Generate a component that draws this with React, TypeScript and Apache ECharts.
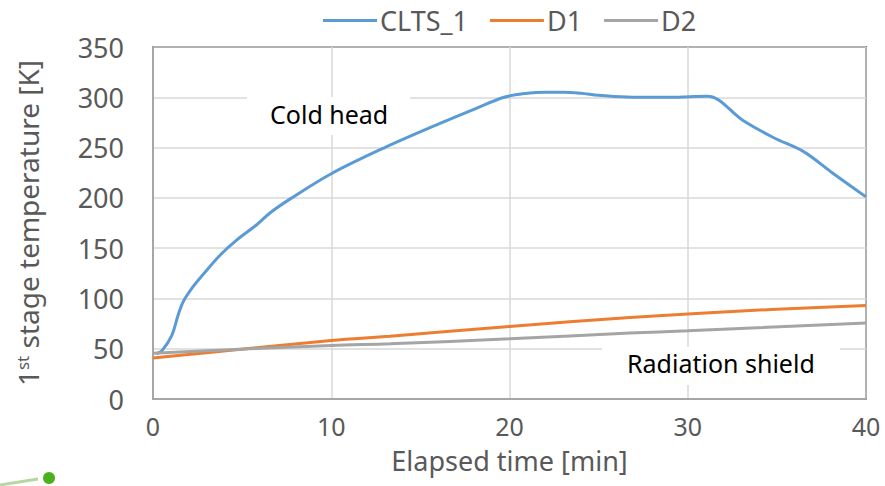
import React, { useEffect, useRef } from "react";
import * as echarts from "echarts";

const seriesNames = ["CLTS_1", "D1", "D2"];
const colors = ["#5b9bd5", "#ed7d31", "#a5a5a5"];

const clts1Time = [0.2, 0.5, 1.05, 1.42, 1.7, 2.26, 2.82, 3.76, 4.69, 5.8, 6.56, 7.7, 10, 13, 16.1, 18, 19.7, 21, 22, 23, 24, 25, 26.9, 29, 31.1, 33.1, 34.8, 36.5, 38.1, 40];
const clts1Temp = [45, 48, 63, 84, 97, 112, 124, 143, 158, 173, 185, 199, 224, 250, 274, 288, 300, 304, 305, 305, 304, 302, 300, 300, 301, 277, 260, 246, 225, 201];

const d1Time = [0, 3, 10, 13.3, 20, 26.75, 30, 35, 40];
const d1Temp = [40.8, 46, 58.1, 62.4, 72.2, 81, 84.5, 89.3, 93];

const d2Time = [0, 10, 13.3, 20, 26.75, 30, 40];
const d2Temp = [45.6, 53.3, 55, 59.8, 65.6, 67.8, 75.5];

const xTicks = [0, 10, 20, 30, 40];
const yTicks = [0, 50, 100, 150, 200, 250, 300, 350];

const FONT = "Noto Sans";

function pairs(t: number[], v: number[]) {
  return t.map((x, i) => [x, v[i]]);
}

export default function App() {
  const ref = useRef<HTMLDivElement>(null);
  useEffect(() => {
    if (!ref.current) return;
    const chart = echarts.init(ref.current, undefined, { renderer: "svg" });
    const datasets = [pairs(clts1Time, clts1Temp), pairs(d1Time, d1Temp), pairs(d2Time, d2Temp)];
    chart.setOption({
      animation: false,
      backgroundColor: "#ffffff",
      textStyle: { fontFamily: FONT },
      legend: {
        top: 2,
        left: 318,
        itemWidth: 54,
        itemHeight: 3,
        itemGap: 22,
        icon: "rect",
        textStyle: { fontSize: 27, color: "#595959", fontFamily: FONT, padding: [0, 0, 0, -2] },
        data: seriesNames,
      },
      grid: {
        left: 153,
        right: 19,
        top: 47,
        bottom: 87,
        show: true,
        borderColor: "#000000",
        borderWidth: 1.5,
        containLabel: false,
        outerBoundsMode: "none",
      },
      xAxis: {
        type: "value",
        min: xTicks[0],
        max: xTicks[xTicks.length - 1],
        interval: 10,
        name: "Elapsed time [min]",
        nameLocation: "middle",
        nameGap: 48,
        nameTextStyle: { fontSize: 27, color: "#595959", fontFamily: FONT },
        axisLine: { show: true, lineStyle: { color: "#a6a6a6", width: 2 } },
        axisTick: { show: false },
        axisLabel: { fontSize: 25, color: "#595959", margin: 14, fontFamily: FONT },
        splitLine: { show: true, lineStyle: { color: "#d9d9d9", width: 1.5 } },
      },
      yAxis: {
        type: "value",
        min: yTicks[0],
        max: yTicks[yTicks.length - 1],
        interval: 50,
        name: "1{sup|st} stage temperature [K]",
        nameLocation: "middle",
        nameGap: 111,
        nameTextStyle: {
          fontSize: 28,
          color: "#595959",
          fontFamily: FONT,
          rich: {
            sup: { fontSize: 17, color: "#595959", fontFamily: FONT, verticalAlign: "top", padding: [0, 0, 10, 0] },
          },
        },
        axisLine: { show: true, lineStyle: { color: "#a6a6a6", width: 2 } },
        axisTick: { show: false },
        axisLabel: { fontSize: 27, color: "#595959", margin: 29, fontFamily: FONT },
        splitLine: { show: true, lineStyle: { color: "#d9d9d9", width: 1.5 } },
      },
      series: seriesNames.map((name, i) => ({
        name,
        type: "line",
        data: datasets[i],
        smooth: 0.35,
        symbol: "none",
        lineStyle: { color: colors[i], width: 3 },
        itemStyle: { color: colors[i] },
        z: 2 + i,
      })),
      graphic: [
        { type: "rect", left: 247, top: 97, shape: { width: 163, height: 38 }, style: { fill: "#ffffff" }, z: 10 },
        { type: "text", left: 270, top: 101, style: { text: "Cold head", fontSize: 25, fill: "#000000", fontFamily: FONT }, z: 11 },
        { type: "rect", left: 602, top: 347, shape: { width: 238, height: 38 }, style: { fill: "#ffffff" }, z: 10 },
        { type: "text", left: 627, top: 350, style: { text: "Radiation shield", fontSize: 25, fill: "#000000", fontFamily: FONT }, z: 11 },
        { type: "circle", shape: { cx: 49, cy: 478, r: 6 }, style: { fill: "#4caf1e" }, z: 10 },
        { type: "line", shape: { x1: 0, y1: 485, x2: 38, y2: 479 }, style: { stroke: "#b5d6a5", lineWidth: 3 }, z: 10 },
      ],
    });
    return () => chart.dispose();
  }, []);
  return <div ref={ref} style={{ width: 885, height: 486, position: "absolute", left: 0, top: 0 }} />;
}
